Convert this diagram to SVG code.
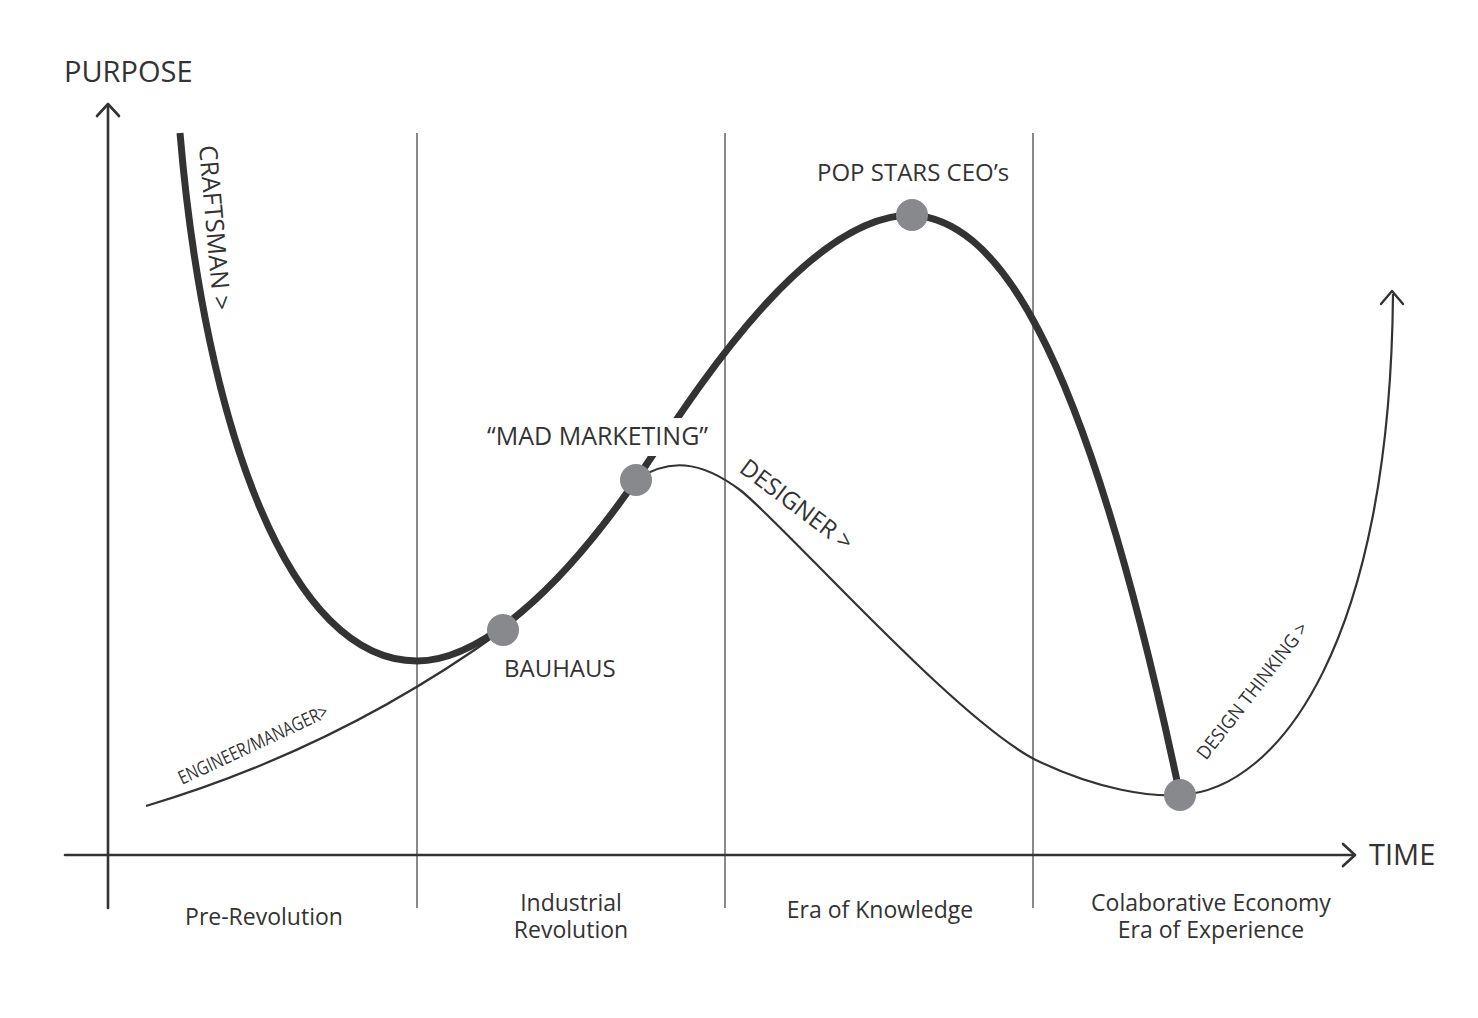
<svg xmlns="http://www.w3.org/2000/svg" width="1478" height="1018" viewBox="0 0 1478 1018">
<style>
  text { font-family: "Open Sans", "Liberation Sans", sans-serif; fill: #333; }
  .lbl { font-size: 24px; }
  .axis-lbl { font-size: 29px; }
  .period { font-size: 23px; text-anchor: middle; }
  .small { font-size: 19px; }
  .divider { stroke: #8a8a8a; stroke-width: 2; fill: none; }
  .axis { stroke: #333; stroke-width: 2.6; fill: none; stroke-linecap: round; stroke-linejoin: round; }
  .thick { stroke: #333; stroke-width: 7; fill: none; stroke-linecap: butt; }
  .thin { stroke: #333; stroke-width: 2.2; fill: none; }
  .node { fill: #88898c; }
</style>
<rect width="1478" height="1018" fill="#fff"/>
<g id="dividers">
  <line class="divider" x1="417" y1="133" x2="417" y2="908"/>
  <line class="divider" x1="725" y1="133" x2="725" y2="908"/>
  <line class="divider" x1="1033" y1="133" x2="1033" y2="908"/>
</g>
<g id="axes">
  <line class="axis" x1="108" y1="106" x2="108" y2="908"/>
  <polyline class="axis" points="97,116 108,104 119,116"/>
  <line class="axis" x1="65" y1="855" x2="1354" y2="855"/>
  <polyline class="axis" points="1343,844 1355,855 1343,866"/>
  <text class="axis-lbl" x="64" y="82">PURPOSE</text>
  <text class="axis-lbl" x="1369" y="865">TIME</text>
</g>
<g id="connectors">
  <path id="thin-engineer" class="thin" d="M146,806 C300,760 420,690 503,630"/>
  <path id="thick-main" class="thick" d="M180,133 C205,430 290,661 417,661 C480,661 560,590 636,480 C680,416 800,215 912,215 C990,220 1080,320 1180,795"/>
  <path id="thin-designer" class="thin" d="M636,480 C668,458 700,460 740,490 C780,520 960,725 1040,762 C1100,790 1150,797 1180,795 C1280,790 1390,640 1393,294"/>
  <polyline class="axis" points="1381,304 1392,291 1403,304" style="stroke-width:2.4"/>
</g>
<g id="curve-labels">
  <text class="lbl" transform="translate(199,146) rotate(85)" style="font-size:25px">CRAFTSMAN &gt;</text>
  <text class="small" textLength="163" lengthAdjust="spacingAndGlyphs" transform="translate(182,785) rotate(-25)">ENGINEER/MANAGER&gt;</text>
  <text class="lbl" transform="translate(738,471) rotate(37)">DESIGNER &gt;</text>
  <text class="small" textLength="168" lengthAdjust="spacingAndGlyphs" transform="translate(1206,761) rotate(-52)">DESIGN THINKING &gt;</text>
</g>
<g id="node-bauhaus">
  <circle class="node" cx="503" cy="630" r="16"/>
  <text class="lbl" x="504" y="677">BAUHAUS</text>
</g>
<g id="node-mad-marketing">
  <rect x="484" y="418" width="232" height="38" fill="#fff"/>
  <text class="lbl" x="487" y="445" style="font-size:25px">“MAD MARKETING”</text>
  <circle class="node" cx="636" cy="480" r="16"/>
</g>
<g id="node-pop-stars">
  <circle class="node" cx="912" cy="215" r="16"/>
  <text class="lbl" x="817" y="181">POP STARS CEO’s</text>
</g>
<g id="node-design-thinking">
  <circle class="node" cx="1180" cy="795" r="16"/>
</g>
<g id="periods">
  <text class="period" x="264" y="925">Pre-Revolution</text>
  <text class="period" x="571" y="911"><tspan x="571" y="911">Industrial</tspan><tspan x="571" y="938">Revolution</tspan></text>
  <text class="period" x="880" y="918">Era of Knowledge</text>
  <text class="period" x="1211" y="911"><tspan x="1211" y="911">Colaborative Economy</tspan><tspan x="1211" y="938">Era of Experience</tspan></text>
</g>
</svg>
